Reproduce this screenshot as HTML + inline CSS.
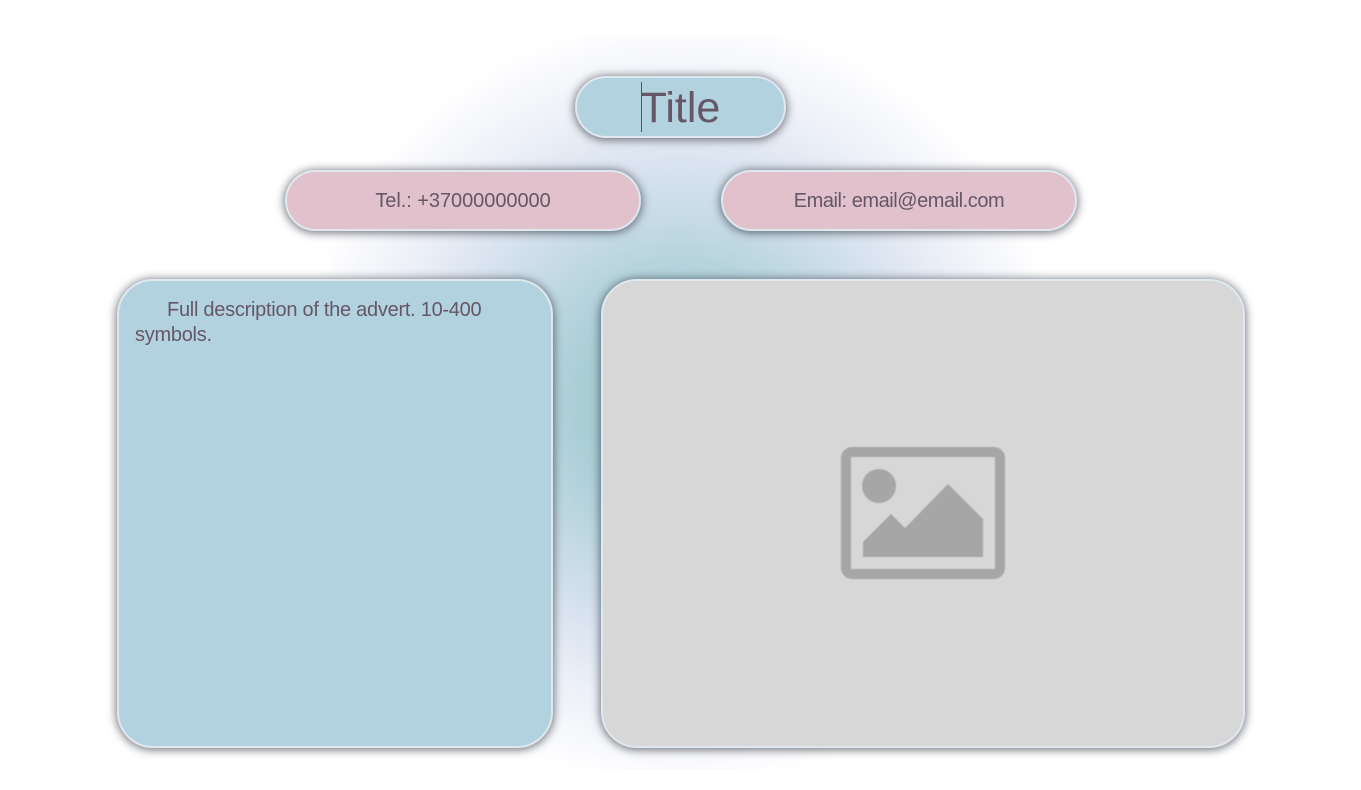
<!DOCTYPE html>
<html lang="en">
<head>
<meta charset="utf-8">
<title>Advert form</title>
<style>
html,body{margin:0;padding:0;width:1361px;height:790px;overflow:hidden;background:#fff;}
body{position:relative;font-family:"Liberation Sans",sans-serif;color:#655766;}
#bg{position:absolute;left:0;top:35px;width:1361px;height:735px;
background:radial-gradient(circle 385px at 680px 367px,#96c5c8 0,#9ec9cc 12%,#aed0d8 30%,#c6dbe6 48%,#dce5f1 64%,#eef1f8 80%,#f8f9fc 92%,#fff 100%);}
.box{position:absolute;box-sizing:border-box;border:2px solid #dfe8ee;box-shadow:0 1px 9px 1px rgba(40,45,55,.65);}
.pill{border-radius:31px;text-align:center;}
#title{left:575px;top:76px;width:211px;height:62px;background:#b3d2e0;font-size:43px;line-height:61px;letter-spacing:0;}
#caret{position:absolute;left:641px;top:82px;width:1px;height:50px;background:#5f5060;}
#tel{left:285px;top:170px;width:356px;height:61px;background:#e0c1cc;font-size:20px;line-height:58px;letter-spacing:-.05px;}
#email{left:721px;top:170px;width:356px;height:61px;background:#e0c1cc;font-size:20px;line-height:58px;letter-spacing:-.45px;}
#desc{left:117px;top:279px;width:436px;height:469px;border-radius:36px;background:#b3d2e0;font-size:20px;line-height:25px;padding:17px 16px;text-indent:32px;letter-spacing:-.27px;}
#imgbox{left:601px;top:279px;width:644px;height:469px;border-radius:36px;background:#d7d7d7;}
#icon{position:absolute;left:841px;top:447px;filter:blur(.4px);}
</style>
</head>
<body>
<div id="bg"></div>
<div id="title" class="box pill">Title</div>
<div id="caret"></div>
<div id="tel" class="box pill">Tel.: +37000000000</div>
<div id="email" class="box pill">Email: email@email.com</div>
<div id="desc" class="box">Full description of the advert. 10-400 symbols.</div>
<div id="imgbox" class="box"></div>
<svg id="icon" width="164" height="133" viewBox="0 0 164 133">
<rect x="5" y="5" width="154" height="122" rx="6" fill="none" stroke="#a6a6a6" stroke-width="10"/>
<circle cx="38" cy="39" r="17" fill="#a6a6a6"/>
<polygon points="22,95 50,67 64,81 107,37 142,72 142,110 22,110" fill="#a6a6a6"/>
</svg>
</body>
</html>
